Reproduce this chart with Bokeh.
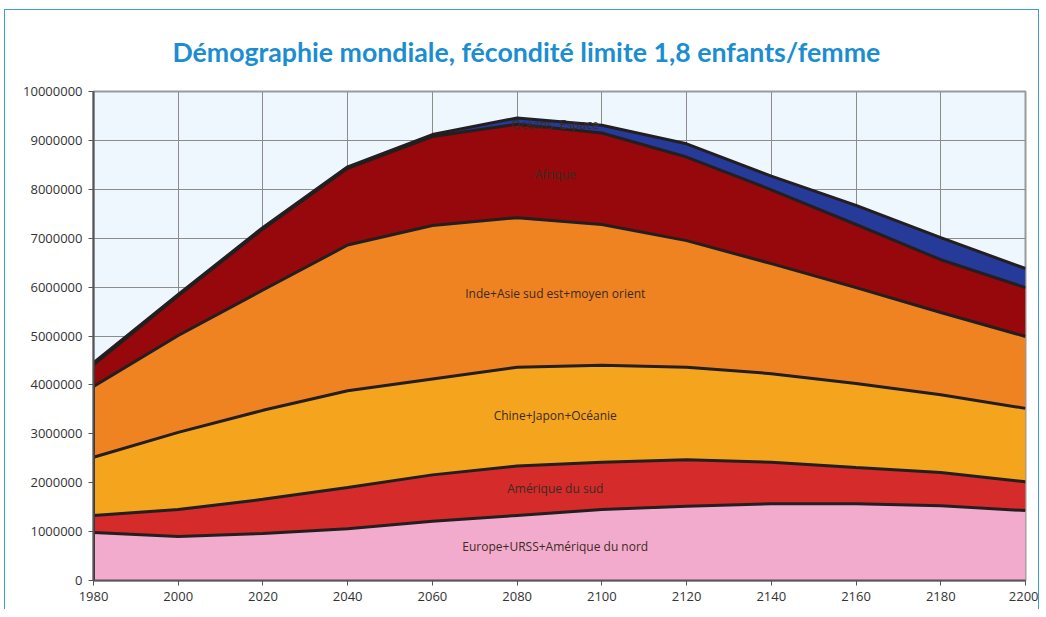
import numpy as np
from bokeh.plotting import figure
from bokeh.models import SingleIntervalTicker, NumeralTickFormatter, ColumnDataSource, Range1d
from bokeh.core.properties import value
from bokeh.embed import file_html
from bokeh.resources import INLINE

years = [1980, 2000, 2020, 2040, 2060, 2080, 2100, 2120, 2140, 2160, 2180, 2200]
europe = [980000, 900000, 960000, 1060000, 1210000, 1330000, 1450000, 1520000, 1570000, 1570000, 1530000, 1430000]
amerique_sud = [350000, 550000, 700000, 840000, 950000, 1010000, 970000, 950000, 850000, 740000, 680000, 590000]
chine = [1190000, 1580000, 1820000, 1980000, 1960000, 2020000, 1980000, 1890000, 1810000, 1720000, 1590000, 1500000]
inde = [1450000, 1980000, 2460000, 2980000, 3140000, 3060000, 2880000, 2590000, 2250000, 1960000, 1680000, 1470000]
afrique = [440000, 810000, 1250000, 1570000, 1820000, 1910000, 1870000, 1710000, 1510000, 1290000, 1080000, 1000000]
oceans = [40000, 30000, 30000, 30000, 40000, 130000, 160000, 270000, 280000, 390000, 450000, 390000]

names = ["Europe+URSS+Amérique du nord", "Amérique du sud", "Chine+Japon+Océanie",
         "Inde+Asie sud est+moyen orient", "Afrique", "Océans"]
keys = ["europe", "amerique_sud", "chine", "inde", "afrique", "oceans"]
series = [europe, amerique_sud, chine, inde, afrique, oceans]
colors = ["#f3abcd", "#d52b2b", "#f5a41d", "#f08321", "#96080b", "#263a9a"]
title_text = "Démographie mondiale, fécondité limite 1,8 enfants/femme"

source = ColumnDataSource(dict(year=years, **{k: v for k, v in zip(keys, series)}))

p = figure(width=1035, height=600, output_backend="svg", toolbar_location=None,
           x_range=Range1d(1980, 2200), y_range=Range1d(0, 10000000),
           min_border_left=88, min_border_right=15, min_border_top=81, min_border_bottom=30,
           title=title_text)
p.background_fill_color = "#eef7fd"
p.border_fill_color = "white"
p.outline_line_color = "#9a9a9a"
p.outline_line_width = 2

p.title.align = "left"
p.title.offset = 79
p.title.standoff = 47
p.title.text_font = "Lato"
p.title.text_font_style = "bold"
p.title.text_font_size = "26.7px"
p.title.text_color = "#1b8dd0"

p.varea_stack(stackers=keys, x="year", color=colors, source=source)

cum = np.cumsum(np.array(series, dtype=float), axis=0)
for row in cum:
    p.line(years, row, line_color="#231f20", line_width=3)
p.segment(x0=[years[0]], y0=[0], x1=[years[0]], y1=[cum[-1][0]], line_color="#231f20", line_width=3)

# labels at middle of each layer
lx = 2089.0
bottoms = [np.zeros(len(years))] + [cum[i] for i in range(len(cum) - 1)]
lab_y = [(np.interp(lx, years, b) + np.interp(lx, years, t)) / 2 for b, t in zip(bottoms, cum)]
p.text(x=[lx] * 5, y=lab_y[:5], text=names[:5], text_align="center", text_baseline="middle",
       text_font=value("Open Sans"), text_font_size="12px", text_color="#3b2b22")
p.text(x=[lx], y=[lab_y[5]], text=["Océans"], text_align="center", text_baseline="middle",
       x_offset=-23, text_font=value("Open Sans"), text_font_size="12px", text_color="#3b2b22")
p.text(x=[lx], y=[lab_y[5]], text=["Espace"], text_align="center", text_baseline="middle",
       x_offset=24, text_font=value("Open Sans"), text_font_size="12px", text_color="#3b2b22")

p.xaxis.ticker = SingleIntervalTicker(interval=20)
p.yaxis.ticker = SingleIntervalTicker(interval=1000000)
p.yaxis.formatter = NumeralTickFormatter(format="0")
for ax in (p.xaxis, p.yaxis):
    ax.major_label_text_font = "Open Sans"
    ax.major_label_text_font_size = "13px"
    ax.major_label_text_color = "#333333"
    ax.axis_line_color = "#555555"
    ax.axis_line_width = 2
    ax.major_tick_line_color = "#555555"
    ax.major_tick_out = 5
    ax.major_tick_in = 0
    ax.minor_tick_line_color = None
p.xaxis.major_label_standoff = 6
p.yaxis.major_label_standoff = 6
p.grid.grid_line_color = "#8c8c8c"
p.grid.grid_line_width = 1
p.styles = {"margin-left": "4px", "margin-top": "9px",
            "border-top": "1px solid #3a9fd8", "border-left": "1px solid #3a9fd8",
            "border-right": "1px solid #3a9fd8"}

open("out.html", "w").write(file_html(p, INLINE))
